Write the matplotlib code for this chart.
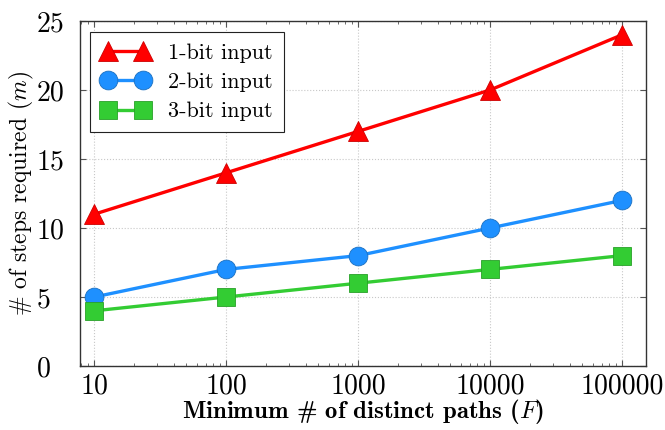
import matplotlib
matplotlib.use("Agg")
import matplotlib.pyplot as plt
from matplotlib.ticker import FixedLocator, FixedFormatter, LogLocator, NullFormatter

x_vals = [10, 100, 1000, 10000, 100000]
x_labels = ["10", "100", "1000", "10000", "100000"]
one_bit = [11, 14, 17, 20, 24]
two_bit = [5, 7, 8, 10, 12]
three_bit = [4, 5, 6, 7, 8]
series_names = ["1-bit input", "2-bit input", "3-bit input"]

plt.rcParams['font.family'] = ['cmr10', 'DejaVu Serif']
plt.rcParams['mathtext.fontset'] = 'cm'
plt.rcParams['axes.unicode_minus'] = False

fig = plt.figure(figsize=(6.65, 4.3), dpi=100)
ax = fig.add_axes([80/665, 64/430, 566/665, 345/430])

ax.plot(x_vals, one_bit, color='#ff0000', lw=2.4, marker='^', ms=15,
        mfc='#ff0000', mec='#cc0000', mew=0.6, label=series_names[0], zorder=3)
ax.plot(x_vals, two_bit, color='#1e90ff', lw=2.4, marker='o', ms=13.5,
        mfc='#1e90ff', mec='#1a6fc0', mew=0.6, label=series_names[1], zorder=3)
ax.plot(x_vals, three_bit, color='#33cc33', lw=2.4, marker='s', ms=12.5,
        mfc='#33cc33', mec='#28a028', mew=0.6, label=series_names[2], zorder=3)

ax.set_xscale('log')
ax.set_xlim(7.8, 1.52e5)
ax.set_ylim(0, 25)
ax.xaxis.set_major_locator(FixedLocator(x_vals))
ax.xaxis.set_major_formatter(FixedFormatter(x_labels))
ax.xaxis.set_minor_locator(LogLocator(base=10, subs=range(2, 10)))
ax.xaxis.set_minor_formatter(NullFormatter())
ax.set_yticks([0, 5, 10, 15, 20, 25])

ax.grid(True, which='major', color='#c8c8c8', ls=':', lw=0.8)
ax.tick_params(which='both', direction='in', top=True, right=True, color='#555555')
ax.tick_params(which='major', length=4, labelsize=20)
ax.tick_params(axis='x', which='major', pad=5)
ax.tick_params(axis='y', which='major', pad=31)
ax.tick_params(which='minor', length=2)
for lbl in ax.get_yticklabels():
    lbl.set_horizontalalignment('left')
for s in ax.spines.values():
    s.set_color('#333333')
    s.set_linewidth(1.0)

ax.set_xlabel(r"Minimum # of distinct paths ($F$)", fontsize=17.8, family=['cmb10', 'DejaVu Serif'], labelpad=-1.5)
ax.set_ylabel(r"# of steps required ($m$)", fontsize=17, labelpad=0.5)

leg = ax.legend(loc='upper left', fontsize=16, frameon=True, fancybox=False,
                edgecolor='#222222', framealpha=1, handlelength=2.2, numpoints=2,
                borderpad=0.5, labelspacing=0.44, handletextpad=0.8,
                borderaxespad=0, bbox_to_anchor=(10/566, 1 - 11/345))
leg.get_frame().set_linewidth(0.8)

fig.savefig("out.png", dpi=100)
